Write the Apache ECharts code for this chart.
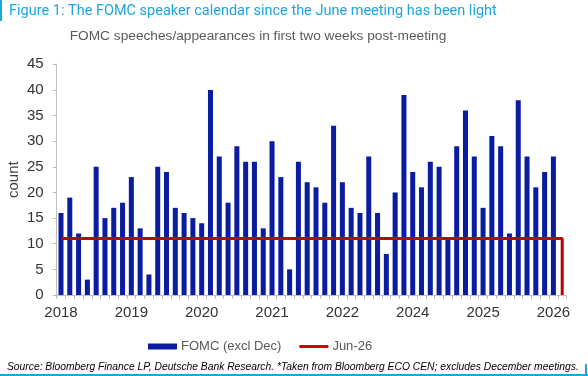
<!DOCTYPE html>
<html>
<head>
<meta charset="utf-8">
<script src="https://cdn.jsdelivr.net/npm/echarts@6/dist/echarts.min.js"></script>
<style>
html,body{margin:0;padding:0;background:#fff;}
#chart{width:588px;height:376px;}
</style>
</head>
<body>
<div id="chart"></div>
<script>
// Category per post-meeting window (year label of each bar); last slot is the Jun-26 marker
const categories = [
  '2018','2018','2018','2018','2018','2018','2018','2018',
  '2019','2019','2019','2019','2019','2019','2019','2019',
  '2020','2020','2020','2020','2020','2020','2020','2020',
  '2021','2021','2021','2021','2021','2021','2021','2021',
  '2022','2022','2022','2022','2022','2022','2022','2022',
  '2024','2024','2024','2024','2024','2024','2024','2024',
  '2025','2025','2025','2025','2025','2025','2025','2025',
  '2026','Jun-26'
];
// FOMC speeches/appearances in first two weeks post-meeting (excl Dec)
const fomcValues = [
  16,19,12,3,25,15,17,18,23,13,
  4,25,24,17,16,15,14,40,27,18,
  29,26,26,13,30,23,5,26,22,21,
  18,33,22,17,16,27,16,8,20,39,
  24,21,26,25,11,29,36,27,17,31,
  29,12,38,27,21,24,27,null
];
// Jun-26 reference level (drops to zero at the final slot)
const jun26Values = [
  11,11,11,11,11,11,11,11,11,11,
  11,11,11,11,11,11,11,11,11,11,
  11,11,11,11,11,11,11,11,11,11,
  11,11,11,11,11,11,11,11,11,11,
  11,11,11,11,11,11,11,11,11,11,
  11,11,11,11,11,11,11,0
];
const yTicks = {min: 0, max: 45, interval: 5};
const titleText = 'Figure 1: The FOMC speaker calendar since the June meeting has been light';
const subtitleText = 'FOMC speeches/appearances in first two weeks post-meeting';
const sourceText = 'Source: Bloomberg Finance LP, Deutsche Bank Research. *Taken from Bloomberg ECO CEN; excludes December meetings.';

const chart = echarts.init(document.getElementById('chart'), null, {renderer: 'canvas'});
const axisGray = '#bfbfbf';
chart.setOption({
  animation: false,
  backgroundColor: '#fff',
  title: [
    {text: titleText, left: 9, top: 4, padding: 0,
     textStyle: {color: '#1ba6e0', fontSize: 14.5, fontWeight: 'normal', fontFamily: 'Roboto'}},
    {text: subtitleText, left: 258, textAlign: 'center', top: 29, padding: 0,
     textStyle: {color: '#595959', fontSize: 13.7, fontWeight: 'normal', fontFamily: 'Liberation Sans'}},
    {text: sourceText, left: 7, top: 362, padding: 0,
     textStyle: {color: '#000', fontSize: 10.3, fontStyle: 'italic', fontWeight: 'normal', fontFamily: 'Liberation Sans'}}
  ],
  graphic: [
    {type: 'rect', shape: {x: 0, y: 0, width: 2, height: 21}, style: {fill: '#1ba6e0'}},
    {type: 'rect', shape: {x: 0, y: 374, width: 588, height: 2}, style: {fill: '#1ba6e0'}},
    {type: 'rect', shape: {x: 585, y: 364, width: 2, height: 12}, style: {fill: '#1ba6e0'}}
  ],
  legend: {
    left: 148, top: 340, padding: 0,
    itemWidth: 29, itemHeight: 6, itemGap: 18, symbolKeepAspect: true,
    textStyle: {color: '#595959', fontSize: 13, fontFamily: 'Liberation Sans', padding: [0,0,0,-1]},
    data: [
      {name: 'FOMC (excl Dec)', icon: 'rect'},
      {name: 'Jun-26', icon: 'path://M0,0H30V3H0Z', itemStyle: {color: '#c00000'}}
    ]
  },
  grid: {left: 56.6, right: 21.4, top: 64.3, bottom: 81, containLabel: false, outerBoundsMode: 'none'},
  xAxis: {
    type: 'category',
    data: categories,
    boundaryGap: true,
    axisLine: {lineStyle: {color: axisGray, width: 1}},
    axisTick: {show: true, interval: 0, length: 4, lineStyle: {color: axisGray}},
    axisLabel: {interval: 7, color: '#333', fontSize: 15, fontFamily: 'Liberation Sans', margin: 10},
    splitLine: {show: false}
  },
  yAxis: {
    type: 'value',
    min: yTicks.min, max: yTicks.max, interval: yTicks.interval,
    name: 'count', nameLocation: 'middle', nameRotate: 90, nameGap: 35, nameMoveOverlap: false,
    nameTextStyle: {color: '#404040', fontSize: 15, fontFamily: 'Liberation Sans'},
    axisLine: {show: true, lineStyle: {color: axisGray, width: 1}},
    axisTick: {show: true, length: 4, lineStyle: {color: axisGray}},
    axisLabel: {color: '#333', fontSize: 15, fontFamily: 'Liberation Sans', margin: 13},
    splitLine: {show: false}
  },
  series: [
    {name: 'FOMC (excl Dec)', type: 'bar', data: fomcValues, barWidth: '57%',
     itemStyle: {color: '#0a1ca0'}},
    {name: 'Jun-26', type: 'line', data: jun26Values, step: 'end',
     symbol: 'none', showSymbol: false, lineStyle: {color: '#c00000', width: 3}, itemStyle: {color: '#c00000'}}
  ]
});
</script>
</body>
</html>
